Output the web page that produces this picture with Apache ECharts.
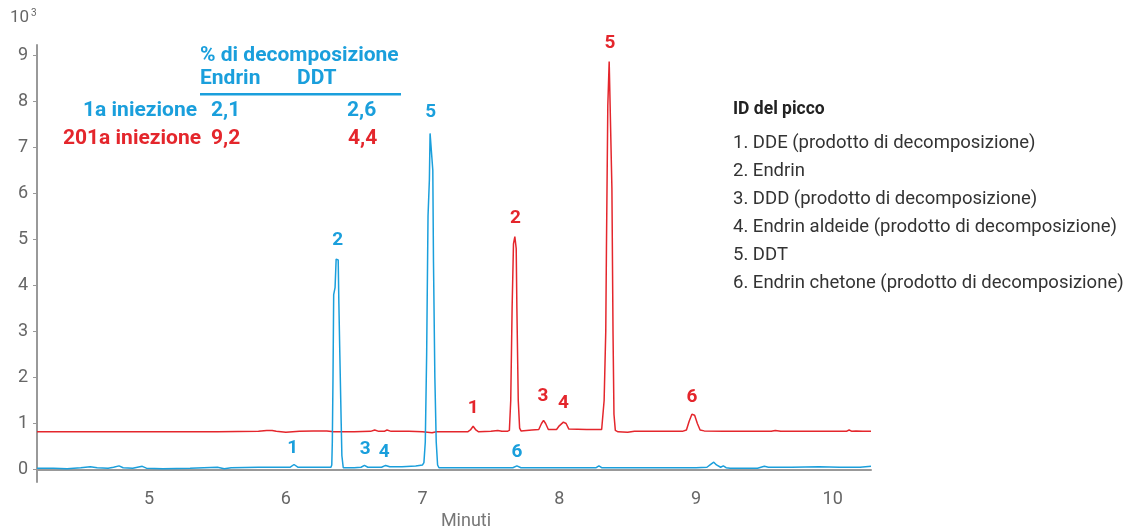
<!DOCTYPE html>
<html>
<head>
<meta charset="utf-8">
<title>Decomposizione Endrin / DDT</title>
<script src="https://cdn.jsdelivr.net/npm/echarts@6/dist/echarts.min.js"></script>
<style>
  html, body { margin: 0; padding: 0; background: #fff; }
  #chart { width: 1129px; height: 529px; }
</style>
</head>
<body>
<div id="chart"></div>
<script>
// tick labels
var xTicks = [5, 6, 7, 8, 9, 10];
var yTicks = [0, 1, 2, 3, 4, 5, 6, 7, 8, 9];

// 1a iniezione (blu) - [minuti, segnale x10^3]
var blueTrace = [
  [4.18, 0.03], [4.3, 0.03], [4.4, 0.02], [4.5, 0.04], [4.57, 0.06], [4.62, 0.04], [4.7, 0.03],
  [4.74, 0.05], [4.78, 0.08], [4.81, 0.04], [4.88, 0.03], [4.95, 0.07], [4.98, 0.03], [5.1, 0.02],
  [5.3, 0.03], [5.5, 0.05], [5.55, 0.02], [5.6, 0.04], [5.8, 0.05], [6.03, 0.05], [6.06, 0.11],
  [6.09, 0.05], [6.2, 0.05], [6.33, 0.05],
  [6.336, 0.1], [6.34, 0.6], [6.345, 2.0], [6.35, 3.8], [6.36, 3.95], [6.368, 4.57], [6.383, 4.55],
  [6.388, 3.6], [6.395, 2.5], [6.405, 1.0], [6.41, 0.3], [6.42, 0.04],
  [6.5, 0.04], [6.55, 0.05], [6.575, 0.09], [6.6, 0.05], [6.7, 0.05], [6.73, 0.09], [6.76, 0.06],
  [6.85, 0.06], [6.95, 0.08], [7.0, 0.1],
  [7.01, 0.15], [7.02, 0.6], [7.03, 2.5], [7.04, 5.5], [7.05, 6.3], [7.055, 7.3], [7.065, 7.34],
  [7.075, 6.5], [7.08, 4.5], [7.09, 2.0], [7.1, 0.6], [7.11, 0.1], [7.12, 0.04],
  [7.3, 0.04], [7.5, 0.04], [7.66, 0.04], [7.69, 0.08], [7.72, 0.04], [8.0, 0.04], [8.27, 0.04],
  [8.29, 0.08], [8.31, 0.04], [8.6, 0.04], [9.0, 0.04], [9.08, 0.05], [9.11, 0.12], [9.13, 0.16],
  [9.15, 0.1], [9.18, 0.05], [9.2, 0.08], [9.22, 0.04], [9.25, 0.03], [9.45, 0.03], [9.5, 0.07],
  [9.53, 0.05], [9.7, 0.05], [9.9, 0.06], [10.05, 0.05], [10.2, 0.05], [10.28, 0.07]
];

// 201a iniezione (rosso)
var redTrace = [
  [4.18, 0.82], [5.0, 0.82], [5.5, 0.82], [5.8, 0.83], [5.86, 0.85], [5.9, 0.85], [5.93, 0.83],
  [6.0, 0.81], [6.1, 0.83], [6.2, 0.84], [6.3, 0.84], [6.35, 0.82], [6.5, 0.82], [6.62, 0.83],
  [6.65, 0.86], [6.68, 0.83], [6.72, 0.83], [6.74, 0.86], [6.77, 0.83], [6.9, 0.83], [7.0, 0.82],
  [7.07, 0.8], [7.1, 0.82], [7.33, 0.82], [7.35, 0.86], [7.37, 0.94], [7.39, 0.86], [7.41, 0.82],
  [7.5, 0.83], [7.55, 0.85], [7.58, 0.83], [7.62, 0.83],
  [7.635, 0.85], [7.645, 1.5], [7.655, 3.5], [7.665, 4.9], [7.675, 5.06], [7.685, 4.8],
  [7.69, 3.5], [7.7, 1.5], [7.71, 0.9], [7.72, 0.84],
  [7.8, 0.86], [7.85, 0.87], [7.87, 1.0], [7.885, 1.07], [7.9, 1.0], [7.92, 0.87], [7.98, 0.87],
  [8.0, 0.95], [8.03, 1.03], [8.05, 1.0], [8.07, 0.88], [8.2, 0.87], [8.31, 0.87],
  [8.323, 0.88], [8.328, 1.5], [8.34, 3.0], [8.345, 4.8], [8.355, 7.9], [8.365, 8.86],
  [8.375, 8.84], [8.385, 6.1], [8.393, 3.0], [8.4, 1.2], [8.41, 0.85], [8.43, 0.82],
  [8.5, 0.81], [8.55, 0.83], [8.7, 0.83], [8.9, 0.83], [8.93, 0.86], [8.95, 1.05], [8.97, 1.2],
  [8.99, 1.18], [9.01, 1.0], [9.03, 0.86], [9.06, 0.84], [9.2, 0.83], [9.55, 0.83], [9.58, 0.85],
  [9.62, 0.83], [9.7, 0.83], [9.71, 0.86], [9.73, 0.83], [10.1, 0.83], [10.12, 0.86],
  [10.14, 0.83], [10.17, 0.84], [10.22, 0.83], [10.28, 0.83]
];

// numeri dei picchi: [x, y, etichetta]
var bluePeakLabels = [
  [6.05, 0.46, '1'], [6.38, 4.98, '2'], [6.58, 0.45, '3'], [6.72, 0.37, '4'],
  [7.06, 7.75, '5'], [7.69, 0.38, '6']
];
var redPeakLabels = [
  [7.37, 1.33, '1'], [7.68, 5.46, '2'], [7.88, 1.59, '3'], [8.03, 1.44, '4'],
  [8.37, 9.25, '5'], [8.97, 1.57, '6']
];

var peakIds = [
  '1. DDE (prodotto di decomposizione)',
  '2. Endrin',
  '3. DDD (prodotto di decomposizione)',
  '4. Endrin aldeide (prodotto di decomposizione)',
  '5. DDT',
  '6. Endrin chetone (prodotto di decomposizione)'
];

var BLUE = '#1a9fdc';
var RED = '#e4262c';
var GREY = '#999';
var FONT = 'Roboto';

var chart = echarts.init(document.getElementById('chart'));

function labelSeries(list, color) {
  return {
    type: 'scatter',
    symbolSize: 0,
    clip: false,
    silent: true,
    itemStyle: { opacity: 1, color: color },
    data: list.map(function (p) { return { value: [p[0], p[1]], name: p[2] }; }),
    label: {
      show: true,
      position: 'inside',
      formatter: '{b}',
      color: color,
      opacity: 1,
      fontFamily: FONT,
      fontWeight: 'bold',
      fontSize: 19
    }
  };
}

var graphics = [
  { type: 'text', left: 10, top: 9, style: { text: '10', fontFamily: FONT, fontSize: 17, fill: '#666' } },
  { type: 'text', left: 31, top: 8, style: { text: '3', fontFamily: FONT, fontSize: 10, fill: '#666' } },
  { type: 'text', left: 200, top: 45, style: { text: '% di decomposizione', fontFamily: FONT, fontSize: 21, fontWeight: 'bold', fill: BLUE } },
  { type: 'text', left: 200, top: 68, style: { text: 'Endrin', fontFamily: FONT, fontSize: 21, fontWeight: 'bold', fill: BLUE } },
  { type: 'text', left: 297, top: 68, style: { text: 'DDT', fontFamily: FONT, fontSize: 21, fontWeight: 'bold', fill: BLUE } },
  { type: 'rect', shape: { x: 200, y: 93, width: 201, height: 2.5 }, style: { fill: BLUE } },
  { type: 'text', x: 197, y: 111, style: { text: '1a iniezione', align: 'right', verticalAlign: 'middle', fontFamily: FONT, fontSize: 21, fontWeight: 'bold', fill: BLUE } },
  { type: 'text', x: 211, y: 111, style: { text: '2,1', verticalAlign: 'middle', fontFamily: FONT, fontSize: 21, fontWeight: 'bold', fill: BLUE } },
  { type: 'text', x: 347, y: 111, style: { text: '2,6', verticalAlign: 'middle', fontFamily: FONT, fontSize: 21, fontWeight: 'bold', fill: BLUE } },
  { type: 'text', x: 201, y: 139, style: { text: '201a iniezione', align: 'right', verticalAlign: 'middle', fontFamily: FONT, fontSize: 21, fontWeight: 'bold', fill: RED } },
  { type: 'text', x: 211, y: 139, style: { text: '9,2', verticalAlign: 'middle', fontFamily: FONT, fontSize: 21, fontWeight: 'bold', fill: RED } },
  { type: 'text', x: 348, y: 139, style: { text: '4,4', verticalAlign: 'middle', fontFamily: FONT, fontSize: 21, fontWeight: 'bold', fill: RED } },
  { type: 'text', x: 733, y: 110, style: { text: 'ID del picco', verticalAlign: 'middle', fontFamily: FONT, fontSize: 17.5, fontWeight: 'bold', fill: '#222' } }
];
peakIds.forEach(function (t, i) {
  graphics.push({
    type: 'text', x: 733, y: 143.5 + i * 27.9,
    style: { text: t, verticalAlign: 'middle', fontFamily: FONT, fontSize: 18.5, fill: '#333' }
  });
});

chart.setOption({
  animation: false,
  textStyle: { fontFamily: FONT },
  grid: { left: 37, right: 258, top: 45, bottom: 47, containLabel: false, outerBoundsMode: 'none' },
  xAxis: {
    type: 'value',
    min: 4.18,
    max: 10.28,
    name: 'Minuti',
    nameLocation: 'middle',
    nameGap: 28,
    nameTextStyle: { color: '#777', fontSize: 18, padding: [0, 0, 0, 24] },
    axisLine: { lineStyle: { color: GREY, width: 2 } },
    axisTick: { show: false },
    splitLine: { show: false },
    axisLabel: { customValues: xTicks, color: '#666', fontSize: 18, margin: 8 }
  },
  yAxis: {
    type: 'value',
    min: -0.27,
    max: 9.22,
    axisLine: { show: true, lineStyle: { color: GREY, width: 2 } },
    axisTick: { show: true, customValues: yTicks, length: 4, lineStyle: { color: GREY } },
    splitLine: { show: false },
    axisLabel: { customValues: yTicks, color: '#666', fontSize: 18, margin: 9 }
  },
  graphic: graphics,
  series: [
    {
      name: '201a iniezione',
      type: 'line',
      data: redTrace,
      showSymbol: false,
      lineStyle: { color: RED, width: 1.5 }
    },
    {
      name: '1a iniezione',
      type: 'line',
      data: blueTrace,
      showSymbol: false,
      lineStyle: { color: BLUE, width: 1.5 }
    },
    labelSeries(bluePeakLabels, BLUE),
    labelSeries(redPeakLabels, RED)
  ]
});
</script>
</body>
</html>
